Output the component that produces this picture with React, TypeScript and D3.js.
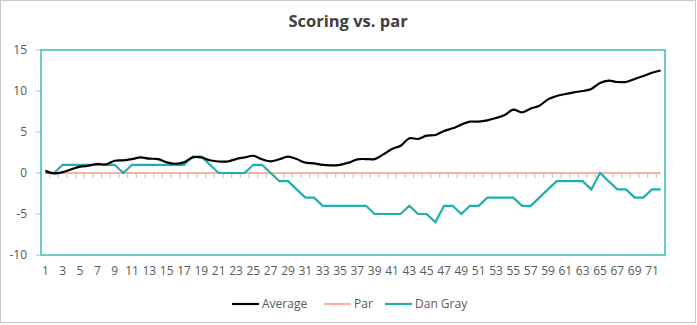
import React from "react";
import * as d3 from "d3";

const rounds: number[] = d3.range(1, 73);
const average: number[] = [
  0.28, -0.05, 0.1, 0.45, 0.77, 0.9, 1.1, 1.05, 1.5, 1.55,
  1.7, 1.9, 1.75, 1.7, 1.3, 1.13, 1.3, 1.9, 1.9, 1.55,
  1.4, 1.4, 1.7, 1.9, 2.1, 1.67, 1.42, 1.67, 2.0, 1.7,
  1.26, 1.18, 0.98, 0.93, 1.0, 1.26, 1.67, 1.7, 1.7, 2.27,
  2.93, 3.33, 4.23, 4.15, 4.55, 4.63, 5.12, 5.45, 5.9, 6.26,
  6.26, 6.42, 6.7, 7.07, 7.72, 7.4, 7.85, 8.2, 8.98, 9.39,
  9.63, 9.84, 10.0, 10.24, 10.98, 11.26, 11.1, 11.1, 11.46, 11.83, 12.23, 12.5,
];
const par: number[] = rounds.map(() => 0);
const danGray: number[] = [
  0, 0, 1, 1, 1, 1, 1, 1, 1, 0,
  1, 1, 1, 1, 1, 1, 1, 2, 2, 1,
  0, 0, 0, 0, 1, 1, 0, -1, -1, -2,
  -3, -3, -4, -4, -4, -4, -4, -4, -5, -5,
  -5, -5, -4, -5, -5, -6, -4, -4, -5, -4,
  -4, -3, -3, -3, -3, -4, -4, -3, -2, -1,
  -1, -1, -1, -2, 0, -1, -2, -2, -3, -3, -2, -2,
];
const yTicks: number[] = [15, 10, 5, 0, -5, -10];
const seriesNames: string[] = ["Average", "Par", "Dan Gray"];

const W = 697;
const H = 325;
const plot = { left: 41, right: 665, top: 50, bottom: 255 };
const FONT = "'Open Sans', 'Noto Sans', sans-serif";
const TEAL = "#1fb0ab";
const BORDER_TEAL = "#3cbcb6";
const PAR_COLOR = "#f5b4a2";
const TEXT = "#595959";

export default function App() {
  const x = d3
    .scaleBand<number>()
    .domain(rounds)
    .range([plot.left, plot.right])
    .paddingInner(0)
    .paddingOuter(0);
  const y = d3.scaleLinear().domain([-10, 15]).range([plot.bottom, plot.top]);
  const cx = (r: number) => (x(r) as number) + x.bandwidth() / 2;

  const smoothLine = d3
    .line<number>()
    .x((_, i) => cx(rounds[i]))
    .y((v) => y(v))
    .curve(d3.curveCatmullRom.alpha(0.5));
  const straightLine = d3
    .line<number>()
    .x((_, i) => cx(rounds[i]))
    .y((v) => y(v));

  const boundaries = d3.range(0, rounds.length + 1).map((k) => plot.left + k * x.bandwidth());
  const legendColors = ["#000000", PAR_COLOR, TEAL];
  const legendX = [232, 324, 385];

  return (
    <svg
      width={W}
      height={H}
      style={{ position: "absolute", left: 0, top: 0, background: "#fff" }}
      fontFamily={FONT}
    >
      <rect x={0.5} y={0.5} width={695} height={322} fill="#fff" stroke="#c9c9c9" strokeWidth={1} />
      <text x={348} y={27} textAnchor="middle" fontSize={16.5} fontWeight={700} fill="#404040">
        Scoring vs. par
      </text>

      {/* y axis labels and ticks */}
      {yTicks.map((t) => (
        <g key={t}>
          <line x1={plot.left - 5} x2={plot.left} y1={y(t)} y2={y(t)} stroke="#bfbfbf" />
          <text x={plot.left - 14} y={y(t)} dy="0.35em" textAnchor="end" fontSize={12} fill={TEXT}>
            {t}
          </text>
        </g>
      ))}

      {/* category ticks on zero line */}
      {boundaries.map((bx, i) => (
        <line key={i} x1={bx} x2={bx} y1={y(0)} y2={y(0) + 5} stroke="#bfbfbf" />
      ))}

      {/* x labels */}
      {rounds
        .filter((r) => r % 2 === 1)
        .map((r) => (
          <text key={r} x={cx(r)} y={275} textAnchor="middle" fontSize={12} fill={TEXT}>
            {r}
          </text>
        ))}

      {/* series */}
      <path d={straightLine(par) || ""} fill="none" stroke={PAR_COLOR} strokeWidth={2} />
      <path d={straightLine(danGray) || ""} fill="none" stroke={TEAL} strokeWidth={2.2} strokeLinejoin="miter" />
      <path d={smoothLine(average) || ""} fill="none" stroke="#000" strokeWidth={2.2} />

      {/* plot border */}
      <rect
        x={plot.left}
        y={plot.top}
        width={plot.right - plot.left}
        height={plot.bottom - plot.top}
        fill="none"
        stroke={BORDER_TEAL}
        strokeWidth={1.5}
      />

      {/* legend */}
      {seriesNames.map((name, i) => (
        <g key={name}>
          <line x1={legendX[i]} x2={legendX[i] + 27} y1={304} y2={304} stroke={legendColors[i]} strokeWidth={2.2} />
          <text x={legendX[i] + 30} y={304} dy="0.35em" fontSize={12} fill={TEXT}>
            {name}
          </text>
        </g>
      ))}
    </svg>
  );
}
